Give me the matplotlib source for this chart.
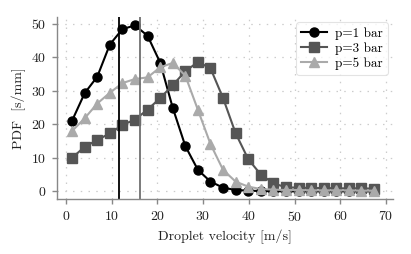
import numpy as np
import matplotlib
matplotlib.use("Agg")
import matplotlib.pyplot as plt

plt.rcParams["font.family"] = "serif"
plt.rcParams["font.serif"] = ["cmr10", "DejaVu Serif"]
plt.rcParams["mathtext.fontset"] = "cm"
plt.rcParams["axes.formatter.use_mathtext"] = True

# bin centres of the velocity histogram [m/s]
velocity = [1.375 + 2.75 * i for i in range(25)]

pdf_1bar = [21.1, 29.3, 34.2, 43.8, 48.4, 49.5, 46.4, 38.4, 24.9, 13.5,
            6.4, 2.9, 1.1, 0.4, 0.2, 0.1, 0.05, 0.0, 0.0, 0.0,
            0.0, 0.0, 0.0, 0.0, 0.0]
pdf_3bar = [10.0, 13.3, 15.3, 17.3, 19.8, 21.4, 24.4, 27.8, 31.7, 35.8,
            38.6, 36.7, 27.8, 17.3, 9.6, 5.0, 2.4, 1.2, 1.1, 1.0,
            1.0, 0.9, 0.9, 0.9, 0.8]
pdf_5bar = [18.0, 21.8, 26.2, 29.4, 32.3, 33.5, 34.0, 37.0, 38.3, 34.5,
            24.3, 14.1, 6.4, 2.9, 1.4, 0.7, 0.5, 0.4, 0.4, 0.3,
            0.3, 0.3, 0.3, 0.2, 0.2]

series = [("p=1 bar", pdf_1bar, "#000000", "o"),
          ("p=3 bar", pdf_3bar, "#555555", "s"),
          ("p=5 bar", pdf_5bar, "#aaaaaa", "^")]

# characteristic velocities marked by vertical lines
v_mark_1 = 11.7
v_mark_2 = 16.3

fig = plt.figure(figsize=(4.11, 2.54), dpi=100)
ax = fig.add_axes([0.139, 0.215, 0.817, 0.718])

ax.grid(True, color="#cccccc", linestyle=(0, (1.2, 5)), linewidth=0.9)
ax.set_axisbelow(True)

for label, vals, color, marker in series:
    ax.plot(velocity, vals, color=color, marker=marker, markersize=6.5,
            linewidth=1.5, label=label)

ax.axvline(v_mark_1, color="#000000", linewidth=1.3)
ax.axvline(v_mark_2, color="#707070", linewidth=1.3)

ax.set_xlim(-1.9, 71.5)
ax.set_ylim(-2.4, 52.0)
ax.set_xticks(np.arange(0, 71, 10))
ax.set_yticks(np.arange(0, 51, 10))

for side in ["top", "right"]:
    ax.spines[side].set_visible(False)
for side in ["left", "bottom"]:
    ax.spines[side].set_color("#888888")
    ax.spines[side].set_linewidth(1.0)
ax.tick_params(colors="#888888", labelcolor="#222222", labelsize=10,
               length=3.5, width=1.0, pad=4)

ax.set_xlabel("Droplet velocity [m/s]", fontsize=10, color="#222222")
ax.set_ylabel("PDF  [s/mm]", fontsize=10, color="#222222")

leg = ax.legend(loc="upper right", fontsize=9.5, frameon=True,
                borderaxespad=0.4, handlelength=2.0, labelspacing=0.2,
                borderpad=0.35, handletextpad=0.6)
leg.get_frame().set_edgecolor("#dddddd")
leg.get_frame().set_linewidth(0.8)

fig.savefig("out.png", dpi=100)
